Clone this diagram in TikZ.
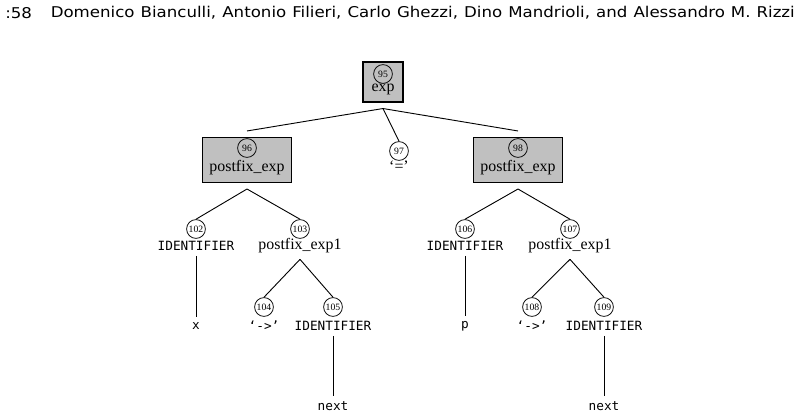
\documentclass[tikz,border=0pt]{standalone}
\usepackage{fontspec}
\setmainfont{Liberation Serif}
\setmonofont{DejaVu Sans Mono}
\newfontfamily\hdrfont[FakeStretch=1.12]{DejaVu Sans}
\usetikzlibrary{calc}
\definecolor{BoxFill}{RGB}{192,192,192}
\tikzset{
  nd_box/.style={
    rectangle, draw=black, fill=BoxFill, line width=1pt,
    inner sep=0pt, outer sep=4.3pt},
  nd_num/.style={
    circle, draw=black, line width=0.5pt,
    minimum size=12.4pt, inner sep=0pt,
    font=\fontsize{6.4}{7}\selectfont},
  nd_txt/.style={font=\fontsize{10.5}{12}\selectfont, inner sep=1pt},
  nd_tok/.style={font=\ttfamily\fontsize{8.4}{10}\selectfont,
    inner sep=1pt, outer sep=2.5pt},
  nd_hdr/.style={font=\hdrfont\fontsize{9.8}{12}\selectfont, inner sep=0pt},
  edge/.style={line width=0.6pt},
}

\begin{document}
\begin{tikzpicture}[x=0.66pt,y=-0.66pt]
\useasboundingbox (0,0) rectangle (799,417);

%% page header
\node[nd_hdr, anchor=west] (hpg) at (5,13) {:58};
\node[nd_hdr, anchor=east] (hauth) at (795,13)
  {\makebox[491pt][s]{Domenico Bianculli, Antonio Filieri, Carlo Ghezzi, Dino Mandrioli, and Alessandro M. Rizzi}};

%% ── root and first level ─────────────────────────────────────
\node[nd_box, minimum width=26.4pt, minimum height=26.4pt] at (383,82)  (b95){};
\node[nd_num] at (383,74)  (c95){95};
\node[nd_txt] at (383,89)  (t95){exp};

\node[nd_box, minimum width=59pt, minimum height=29.7pt] at (247,160) (b96){};
\node[nd_num] at (247,148) (c96){96};
\node[nd_txt] at (247,168) (t96){postfix\_exp};

\node[nd_num] at (399,151) (c97){97};
\node[nd_txt] at (399,166) (t97){‘=’};

\node[nd_box, minimum width=59pt, minimum height=29.7pt] at (518,160) (b98){};
\node[nd_num] at (518,148) (c98){98};
\node[nd_txt] at (518,168) (t98){postfix\_exp};

\draw[edge] (b95.south)--(b96.north);
\draw[edge] (b95.south)--(c97.north);
\draw[edge] (b95.south)--(b98.north);

%% ── LEFT: x->next ───────────────────────────────────────────
\node[nd_num] at (196,229) (c102){102};
\node[nd_tok] at (196,246) (t102){IDENTIFIER};
\node[nd_num] at (300,229) (c103){103};
\node[nd_txt, outer sep=3pt] at (300,246) (t103){postfix\_exp1};
\node[nd_tok] at (196,326) (lx){x};
\node[nd_num] at (264,307) (c104){104};
\node[nd_tok] at (264,326) (t104){‘->’};
\node[nd_num] at (333,307) (c105){105};
\node[nd_tok] at (333,326) (t105){IDENTIFIER};
\node[nd_tok] at (333,406) (lnx1){next};

\draw[edge] (b96.south)--(c102.north);
\draw[edge] (b96.south)--(c103.north);
\draw[edge] (t102.south)--(lx.north);
\draw[edge] (t103.south)--(c104.north);
\draw[edge] (t103.south)--(c105.north);
\draw[edge] (t105.south)--(lnx1.north);

%% ── RIGHT: p->next ──────────────────────────────────────────
\node[nd_num] at (465,229) (c106){106};
\node[nd_tok] at (465,246) (t106){IDENTIFIER};
\node[nd_num] at (570,229) (c107){107};
\node[nd_txt, outer sep=3pt] at (570,246) (t107){postfix\_exp1};
\node[nd_tok] at (465,326) (lp){p};
\node[nd_num] at (532,307) (c108){108};
\node[nd_tok] at (532,326) (t108){‘->’};
\node[nd_num] at (604,307) (c109){109};
\node[nd_tok] at (604,326) (t109){IDENTIFIER};
\node[nd_tok] at (604,406) (lnx2){next};

\draw[edge] (b98.south)--(c106.north);
\draw[edge] (b98.south)--(c107.north);
\draw[edge] (t106.south)--(lp.north);
\draw[edge] (t107.south)--(c108.north);
\draw[edge] (t107.south)--(c109.north);
\draw[edge] (t109.south)--(lnx2.north);

\end{tikzpicture}
\end{document}
